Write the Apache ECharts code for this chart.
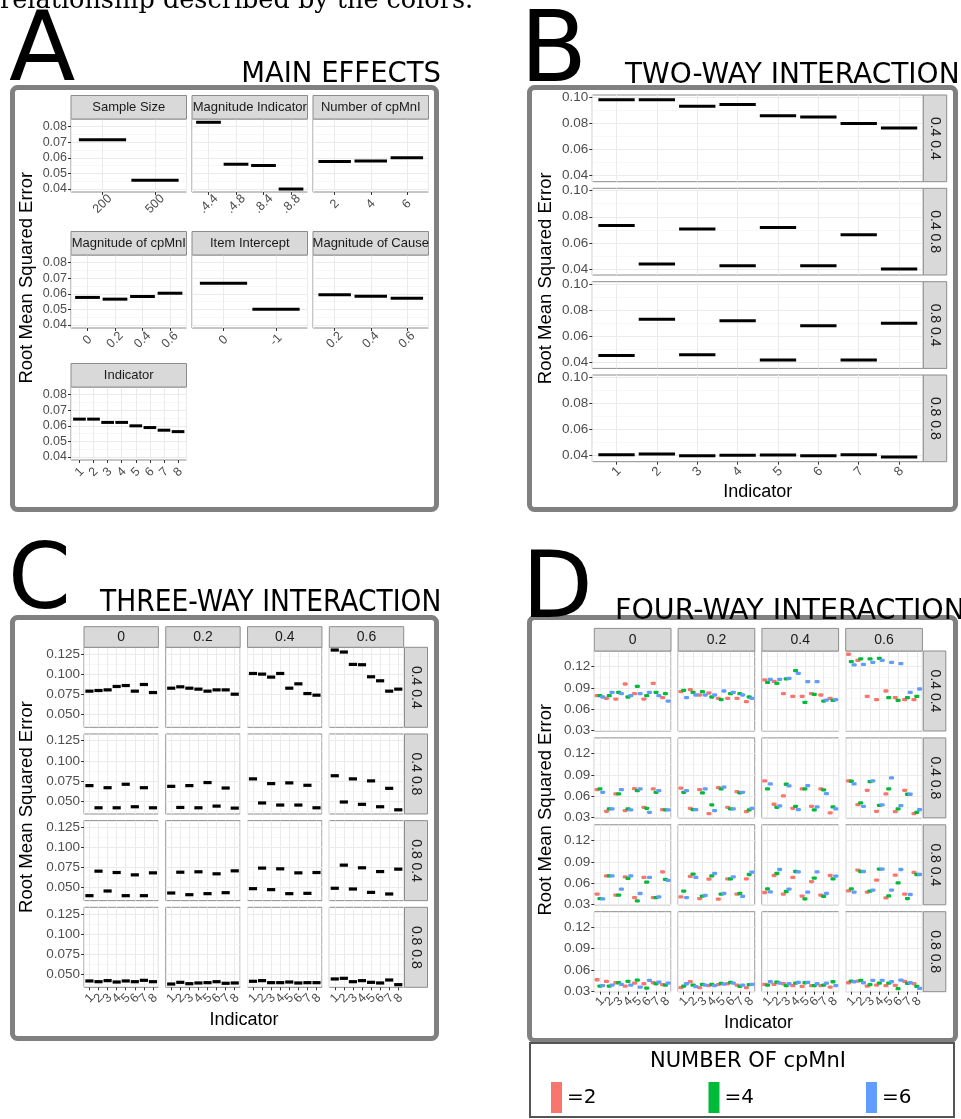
<!DOCTYPE html>
<html><head><meta charset="utf-8">
<script src="https://cdn.jsdelivr.net/npm/echarts@6/dist/echarts.min.js"></script>
<style>html,body{margin:0;padding:0;background:#fff}#c{width:961px;height:1119px}</style>
</head><body><div id="c"></div>
<script>
// ---------------- DATA ----------------
// Panel A : main effects
const aSampleSizeCats = ['200','500'];
const aSampleSize = [0.0716, 0.0457];
const aMagIndCats = ['.4.4','.4.8','.8.4','.8.8'];
const aMagInd = [0.0828, 0.0559, 0.0551, 0.0400];
const aNumCpCats = ['2','4','6'];
const aNumCp = [0.0576, 0.0580, 0.0600];
const aMagCpCats = ['0','0.2','0.4','0.6'];
const aMagCp = [0.0577, 0.0566, 0.0583, 0.0604];
const aInterceptCats = ['0','-1'];
const aIntercept = [0.0668, 0.0502];
const aMagCauseCats = ['0.2','0.4','0.6'];
const aMagCause = [0.0594, 0.0585, 0.0572];
const indicatorCats = ['1','2','3','4','5','6','7','8'];
const aIndicator = [0.0643, 0.0643, 0.0622, 0.0622, 0.0600, 0.0589, 0.0572, 0.0563];
const aYTicks = [0.04, 0.05, 0.06, 0.07, 0.08];
const aYMinor = [0.045, 0.055, 0.065, 0.075];

// Panel B : two-way interaction (rows = magnitude indicator combos)
const rowLabels = ['0.4 0.4', '0.4 0.8', '0.8 0.4', '0.8 0.8'];
const b_0404 = [0.0982, 0.0982, 0.0931, 0.0946, 0.0859, 0.0849, 0.0800, 0.0765];
const b_0408 = [0.0734, 0.0438, 0.0706, 0.0425, 0.0718, 0.0425, 0.0662, 0.0400];
const b_0804 = [0.0453, 0.0730, 0.0458, 0.0718, 0.0418, 0.0680, 0.0418, 0.0700];
const b_0808 = [0.0408, 0.0413, 0.0400, 0.0403, 0.0405, 0.0400, 0.0408, 0.0390];
const bYTicks = [0.04, 0.06, 0.08, 0.10];
const bYMinor = [0.05, 0.07, 0.09];

// Panel C : three-way interaction (columns = magnitude of cpMnI)
const colLabels = ['0', '0.2', '0.4', '0.6'];
const c_0404 = [
  [0.0788, 0.0796, 0.0804, 0.0846, 0.0858, 0.0788, 0.0871, 0.0771],
  [0.0825, 0.0842, 0.0825, 0.0813, 0.0788, 0.0804, 0.0804, 0.0750],
  [0.1008, 0.1000, 0.0963, 0.1008, 0.0825, 0.0879, 0.0758, 0.0738],
  [0.1300, 0.1275, 0.1121, 0.1117, 0.0967, 0.0917, 0.0788, 0.0813]
];
const c_0408 = [
  [0.0691, 0.0415, 0.0665, 0.0415, 0.0708, 0.0428, 0.0665, 0.0415],
  [0.0682, 0.0419, 0.0691, 0.0415, 0.0729, 0.0436, 0.0661, 0.0411],
  [0.0775, 0.0475, 0.0716, 0.0449, 0.0725, 0.0449, 0.0695, 0.0415],
  [0.0814, 0.0487, 0.0775, 0.0458, 0.0750, 0.0428, 0.0657, 0.0390]
];
const c_0804 = [
  [0.0400, 0.0705, 0.0458, 0.0688, 0.0400, 0.0659, 0.0400, 0.0684],
  [0.0433, 0.0692, 0.0412, 0.0697, 0.0425, 0.0672, 0.0437, 0.0709],
  [0.0487, 0.0743, 0.0475, 0.0734, 0.0425, 0.0684, 0.0429, 0.0688],
  [0.0492, 0.0780, 0.0483, 0.0747, 0.0441, 0.0700, 0.0421, 0.0730]
];
const c_0808 = [
  [0.0417, 0.0408, 0.0421, 0.0404, 0.0417, 0.0408, 0.0425, 0.0408],
  [0.0379, 0.0400, 0.0383, 0.0392, 0.0396, 0.0408, 0.0388, 0.0392],
  [0.0413, 0.0421, 0.0396, 0.0396, 0.0404, 0.0392, 0.0396, 0.0396],
  [0.0442, 0.0450, 0.0408, 0.0421, 0.0400, 0.0392, 0.0429, 0.0371]
];
const cYTicks = [0.05, 0.075, 0.10, 0.125];
const cYMinor = [0.0375, 0.0625, 0.0875, 0.1125];

// Panel D : four-way interaction (series = number of cpMnI)
const nLabels = ['=2', '=4', '=6'];
const d_0404_n2 = [
  [0.0792, 0.0755, 0.0745, 0.0956, 0.0820, 0.0745, 0.0966, 0.0764],
  [0.0849, 0.0877, 0.0802, 0.0830, 0.0755, 0.0755, 0.0755, 0.0708],
  [0.1013, 0.0994, 0.0820, 0.0783, 0.0783, 0.0820, 0.0802, 0.0755],
  [0.1374, 0.1289, 0.0783, 0.0736, 0.0858, 0.0764, 0.0736, 0.0736]
];
const d_0404_n4 = [
  [0.0792, 0.0792, 0.0839, 0.0774, 0.0923, 0.0792, 0.0839, 0.0820],
  [0.0867, 0.0839, 0.0849, 0.0774, 0.0736, 0.0820, 0.0820, 0.0774],
  [0.0980, 0.0966, 0.1027, 0.1144, 0.0698, 0.0811, 0.0717, 0.0727],
  [0.1270, 0.1308, 0.1308, 0.1317, 0.0764, 0.0727, 0.0764, 0.0783]
];
const d_0404_n6 = [
  [0.0774, 0.0839, 0.0820, 0.0792, 0.0820, 0.0839, 0.0792, 0.0717],
  [0.0764, 0.0802, 0.0802, 0.0802, 0.0858, 0.0839, 0.0802, 0.0755],
  [0.1022, 0.1022, 0.1036, 0.1106, 0.0989, 0.0989, 0.0731, 0.0736],
  [0.1224, 0.1233, 0.1261, 0.1289, 0.1261, 0.1242, 0.0839, 0.0886]
];
const d_0408_n2 = [
  [0.0694, 0.0389, 0.0633, 0.0398, 0.0708, 0.0445, 0.0703, 0.0413],
  [0.0713, 0.0431, 0.0694, 0.0356, 0.0722, 0.0445, 0.0666, 0.0384],
  [0.0816, 0.0488, 0.0605, 0.0431, 0.0703, 0.0459, 0.0703, 0.0366],
  [0.0816, 0.0483, 0.0684, 0.0389, 0.0633, 0.0384, 0.0684, 0.0356]
];
const d_0408_n4 = [
  [0.0703, 0.0422, 0.0633, 0.0422, 0.0680, 0.0431, 0.0656, 0.0408],
  [0.0656, 0.0413, 0.0647, 0.0478, 0.0703, 0.0422, 0.0647, 0.0408],
  [0.0703, 0.0445, 0.0769, 0.0459, 0.0703, 0.0408, 0.0689, 0.0450],
  [0.0811, 0.0506, 0.0806, 0.0473, 0.0703, 0.0422, 0.0628, 0.0375]
];
const d_0408_n6 = [
  [0.0656, 0.0422, 0.0694, 0.0408, 0.0703, 0.0375, 0.0680, 0.0408],
  [0.0680, 0.0413, 0.0703, 0.0398, 0.0727, 0.0422, 0.0656, 0.0431],
  [0.0774, 0.0464, 0.0745, 0.0413, 0.0750, 0.0450, 0.0638, 0.0422],
  [0.0774, 0.0459, 0.0816, 0.0478, 0.0858, 0.0469, 0.0628, 0.0413]
];
const d_0804_n2 = [
  [0.0445, 0.0703, 0.0431, 0.0689, 0.0398, 0.0680, 0.0398, 0.0759],
  [0.0408, 0.0694, 0.0384, 0.0656, 0.0375, 0.0661, 0.0445, 0.0661],
  [0.0469, 0.0708, 0.0445, 0.0680, 0.0417, 0.0623, 0.0431, 0.0708],
  [0.0492, 0.0783, 0.0473, 0.0642, 0.0394, 0.0713, 0.0445, 0.0750]
];
const d_0804_n4 = [
  [0.0384, 0.0703, 0.0431, 0.0666, 0.0352, 0.0614, 0.0398, 0.0652],
  [0.0488, 0.0727, 0.0417, 0.0703, 0.0445, 0.0661, 0.0455, 0.0722],
  [0.0520, 0.0736, 0.0483, 0.0764, 0.0380, 0.0670, 0.0413, 0.0661],
  [0.0520, 0.0764, 0.0488, 0.0797, 0.0422, 0.0605, 0.0384, 0.0722]
];
const d_0804_n6 = [
  [0.0380, 0.0703, 0.0516, 0.0703, 0.0455, 0.0680, 0.0408, 0.0638],
  [0.0398, 0.0680, 0.0427, 0.0736, 0.0455, 0.0689, 0.0413, 0.0755],
  [0.0478, 0.0792, 0.0516, 0.0759, 0.0473, 0.0759, 0.0455, 0.0698],
  [0.0473, 0.0764, 0.0502, 0.0797, 0.0502, 0.0792, 0.0441, 0.0722]
];
const d_0808_n2 = [
  [0.0464, 0.0441, 0.0422, 0.0375, 0.0417, 0.0408, 0.0422, 0.0394],
  [0.0352, 0.0436, 0.0352, 0.0380, 0.0394, 0.0408, 0.0389, 0.0352],
  [0.0398, 0.0398, 0.0408, 0.0380, 0.0370, 0.0380, 0.0380, 0.0361],
  [0.0422, 0.0445, 0.0375, 0.0389, 0.0380, 0.0384, 0.0441, 0.0408]
];
const d_0808_n4 = [
  [0.0375, 0.0375, 0.0422, 0.0441, 0.0459, 0.0347, 0.0408, 0.0389],
  [0.0375, 0.0389, 0.0398, 0.0398, 0.0413, 0.0427, 0.0370, 0.0394],
  [0.0389, 0.0431, 0.0380, 0.0417, 0.0422, 0.0380, 0.0389, 0.0436],
  [0.0445, 0.0455, 0.0394, 0.0417, 0.0417, 0.0338, 0.0413, 0.0370]
];
const d_0808_n6 = [
  [0.0380, 0.0389, 0.0398, 0.0389, 0.0361, 0.0455, 0.0431, 0.0417],
  [0.0408, 0.0366, 0.0389, 0.0380, 0.0403, 0.0417, 0.0389, 0.0398],
  [0.0436, 0.0417, 0.0408, 0.0427, 0.0427, 0.0408, 0.0417, 0.0380],
  [0.0436, 0.0422, 0.0455, 0.0455, 0.0436, 0.0459, 0.0422, 0.0342]
];
const dYTicks = [0.03, 0.06, 0.09, 0.12];
const dYMinor = [0.045, 0.075, 0.105, 0.135];

// ---------------- STYLE ----------------
const SANS = 'Liberation Sans';
const DJV = 'DejaVu Sans';
const palette = ['#F8766D', '#00BA38', '#619CFF'];
const dodge = [-0.3, 0, 0.3];

const grids = [], xAxes = [], yAxes = [], series = [], graphics = [];

function gText(x, y, text, size, family, o) {
  o = o || {};
  graphics.push({type: 'text', x: x, y: y, rotation: o.rot || 0, scaleX: o.sx || 1, z: 100, silent: true,
    style: {text: text, fontSize: size, fontFamily: family, fill: o.color || '#000',
      align: o.align || 'center', verticalAlign: o.va || 'middle'}});
}
function gRect(x, y, w, h, fill, stroke, lw, r) {
  graphics.push({type: 'rect', z: 50, silent: true, shape: {x: x, y: y, width: w, height: h, r: r || 0},
    style: {fill: fill, stroke: stroke, lineWidth: lw}});
}
function stripTop(x, y, w, h, label, size) {
  gRect(x, y, w, h, '#d9d9d9', '#8c8c8c', 1);
  gText(x + w / 2, y + h / 2, label, size, SANS, {color: '#1a1a1a'});
}
function stripRight(x, y, w, h, label, size) {
  gRect(x, y, w, h, '#d9d9d9', '#8c8c8c', 1);
  gText(x + w / 2, y + h / 2, label, size, SANS, {color: '#1a1a1a', rot: -Math.PI / 2});
}

function facet(c) {
  const gi = grids.length;
  grids.push({left: c.x, top: c.y, width: c.w, height: c.h, show: true, backgroundColor: '#fff',
    borderColor: '#8c8c8c', borderWidth: 1, outerBoundsMode: 'none'});
  const n = c.cats.length;
  const lo = 0.4, hi = n + 0.6;
  // category positions, padded with the two axis ends (their labels are blank and suppressed)
  const pos = [lo].concat(c.cats.map((_, i) => i + 1), [hi]);
  xAxes.push({gridIndex: gi, type: 'value', min: lo, max: hi,
    axisLine: {show: false, onZero: false},
    axisTick: {show: c.showX, customValues: pos, length: 3, lineStyle: {color: '#333', width: 1}},
    axisLabel: {show: c.showX, customValues: pos,
      formatter: v => (Math.abs(v - Math.round(v)) < 1e-6 ? c.cats[Math.round(v) - 1] : ''),
      showMinLabel: false, showMaxLabel: false, hideOverlap: false,
      rotate: 45, align: 'center', verticalAlign: 'middle', margin: c.xMargin,
      color: '#4d4d4d', fontSize: c.xFont, fontFamily: SANS},
    splitLine: {show: true, lineStyle: {color: '#ebebeb', width: 1}}});
  const yi = yAxes.length;
  yAxes.push({gridIndex: gi, type: 'value', min: c.ymin, max: c.ymax, position: 'right',
    axisLine: {show: false}, axisTick: {show: false, customValues: c.yMinor},
    axisLabel: {show: false, customValues: c.yMinor},
    splitLine: {show: true, lineStyle: {color: '#f3f3f3', width: 0.7}}});
  yAxes.push({gridIndex: gi, type: 'value', min: c.ymin, max: c.ymax, position: 'left',
    axisLine: {show: false},
    axisTick: {show: c.showY, customValues: c.yTicks, length: 3, lineStyle: {color: '#333', width: 1}},
    axisLabel: {show: c.showY, customValues: c.yTicks, formatter: c.fmt, margin: 4,
      showMinLabel: true, showMaxLabel: true,
      color: '#4d4d4d', fontSize: c.yFont, fontFamily: SANS},
    splitLine: {show: true, lineStyle: {color: '#ebebeb', width: 1}}});
  return {gi: gi, yi: yi + 1};
}

function segs(ax, vals, lw) {
  series.push({type: 'custom', xAxisIndex: ax.gi, yAxisIndex: ax.yi, silent: true,
    data: vals.map((v, i) => [i + 1, v]),
    renderItem: function (p, api) {
      const x = api.value(0), y = api.value(1);
      const a = api.coord([x - 0.45, y]), b = api.coord([x + 0.45, y]);
      return {type: 'line', shape: {x1: a[0], y1: a[1], x2: b[0], y2: b[1]},
        style: {stroke: '#000', lineWidth: lw}};
    }});
}
function dots(ax, groups) {
  groups.forEach((vals, k) => {
    series.push({type: 'scatter', name: nLabels[k], xAxisIndex: ax.gi, yAxisIndex: ax.yi, silent: true,
      symbol: 'roundRect', symbolSize: [5, 3.3], itemStyle: {color: palette[k], opacity: 1},
      data: vals.map((v, i) => [i + 1 + dodge[k], v])});
  });
}

// ---------------- PANEL A ----------------
const A = {cols: [71, 192, 313], w: 115.5, rows: [119, 255, 387], h: 73, strip: 23.5};
const aFacets = [
  {t: 'Sample Size', cats: aSampleSizeCats, vals: aSampleSize, r: 0, c: 0},
  {t: 'Magnitude Indicator', cats: aMagIndCats, vals: aMagInd, r: 0, c: 1},
  {t: 'Number of cpMnI', cats: aNumCpCats, vals: aNumCp, r: 0, c: 2},
  {t: 'Magnitude of cpMnI', cats: aMagCpCats, vals: aMagCp, r: 1, c: 0},
  {t: 'Item Intercept', cats: aInterceptCats, vals: aIntercept, r: 1, c: 1},
  {t: 'Magnitude of Cause', cats: aMagCauseCats, vals: aMagCause, r: 1, c: 2},
  {t: 'Indicator', cats: indicatorCats, vals: aIndicator, r: 2, c: 0}
];
aFacets.forEach(f => {
  const x = A.cols[f.c], y = A.rows[f.r];
  const ax = facet({x: x, y: y, w: A.w, h: A.h, cats: f.cats, ymin: 0.0381, ymax: 0.0849,
    yTicks: aYTicks, yMinor: aYMinor, fmt: v => v.toFixed(2), showY: f.c === 0, showX: true,
    xMargin: 12, xFont: 12.5, yFont: 12.5});
  segs(ax, f.vals, 3);
  stripTop(x, y - A.strip, A.w, A.strip, f.t, 13);
});

// ---------------- PANEL B ----------------
const B = {x: 592.3, w: 331, rows: [95, 188.3, 281.7, 375], h: 86.7, sx: 923.3, sw: 23.4};
const bData = [b_0404, b_0408, b_0804, b_0808];
bData.forEach((vals, r) => {
  const ax = facet({x: B.x, y: B.rows[r], w: B.w, h: B.h, cats: indicatorCats, ymin: 0.0354, ymax: 0.1018,
    yTicks: bYTicks, yMinor: bYMinor, fmt: v => v.toFixed(2), showY: true, showX: r === 3,
    xMargin: 10, xFont: 13, yFont: 13.5});
  segs(ax, vals, 3);
  stripRight(B.sx, B.rows[r], B.sw, B.h, rowLabels[r], 14);
});

// ---------------- PANEL C ----------------
const C = {x0: 84, step: 81.77, w: 74.4, y0: 647.3, ystep: 86.67, h: 80, stripH: 20.6, sx: 404.5, sw: 23};
const cData = [c_0404, c_0408, c_0804, c_0808];
cData.forEach((rowVals, r) => {
  rowVals.forEach((vals, c) => {
    const x = C.x0 + c * C.step, y = C.y0 + r * C.ystep;
    const ax = facet({x: x, y: y, w: C.w, h: C.h, cats: indicatorCats, ymin: 0.0338, ymax: 0.1334,
      yTicks: cYTicks, yMinor: cYMinor, fmt: v => v.toFixed(3), showY: c === 0, showX: r === 3,
      xMargin: 11, xFont: 12.5, yFont: 13.5});
    segs(ax, vals, 3.2);
    if (r === 0) stripTop(x, y - C.stripH, C.w, C.stripH, colLabels[c], 14);
  });
  stripRight(C.sx, C.y0 + r * C.ystep, C.sw, C.h, rowLabels[r], 14);
});

// ---------------- PANEL D ----------------
const D = {x0: 594.3, step: 83.8, w: 76.7, y0: 651, ystep: 86.9, h: 80, stripH: 22.6, sx: 923.3, sw: 22.5};
const dData = [
  [d_0404_n2, d_0404_n4, d_0404_n6],
  [d_0408_n2, d_0408_n4, d_0408_n6],
  [d_0804_n2, d_0804_n4, d_0804_n6],
  [d_0808_n2, d_0808_n4, d_0808_n6]
];
dData.forEach((groups, r) => {
  for (let c = 0; c < 4; c++) {
    const x = D.x0 + c * D.step, y = D.y0 + r * D.ystep;
    const ax = facet({x: x, y: y, w: D.w, h: D.h, cats: indicatorCats, ymin: 0.0296, ymax: 0.142,
      yTicks: dYTicks, yMinor: dYMinor, fmt: v => v.toFixed(2), showY: c === 0, showX: r === 3,
      xMargin: 10, xFont: 12.5, yFont: 13.5});
    dots(ax, groups.map(g => g[c]));
    if (r === 0) stripTop(x, y - D.stripH, D.w, D.stripH, colLabels[c], 14);
  }
  stripRight(D.sx, D.y0 + r * D.ystep, D.sw, D.h, rowLabels[r], 14);
});

// ---------------- FRAMES, TITLES ----------------
const frameCol = '#808080';
gRect(12.5, 87.5, 424, 422, 'rgba(0,0,0,0)', frameCol, 5, 5);
gRect(529.5, 87.5, 426, 422, 'rgba(0,0,0,0)', frameCol, 5, 5);
gRect(12.5, 617.5, 424, 421, 'rgba(0,0,0,0)', frameCol, 5, 5);
gRect(529.5, 617.5, 426, 423, 'rgba(0,0,0,0)', frameCol, 5, 5);
gRect(530, 1043, 424, 74, 'rgba(0,0,0,0)', '#555', 2, 0);

gText(0, 1.5, 'relationship described by the colors.', 25.5, 'DejaVu Serif', {align: 'left'});
gText(9, 55, 'A', 97, DJV, {align: 'left'});
gText(441, 75, 'MAIN EFFECTS', 27.5, DJV, {align: 'right'});
gText(520, 56, 'B', 98, DJV, {align: 'left'});
gText(625, 75.7, 'TWO-WAY INTERACTION', 28, DJV, {align: 'left'});
gText(8, 585, 'C', 90, DJV, {align: 'left'});
gText(100, 603, 'THREE-WAY INTERACTION', 30, DJV, {align: 'left', sx: 0.885});
gText(522, 593, 'D', 92, DJV, {align: 'left'});
gText(615, 612, 'FOUR-WAY INTERACTION', 28.5, DJV, {align: 'left'});

// axis titles
const RMSE = 'Root Mean Squared Error';
gText(27, 277.7, RMSE, 18.5, SANS, {rot: Math.PI / 2});
gText(546, 278.3, RMSE, 18.5, SANS, {rot: Math.PI / 2});
gText(27, 807, RMSE, 18.5, SANS, {rot: Math.PI / 2});
gText(546, 809.7, RMSE, 18.5, SANS, {rot: Math.PI / 2});
gText(757.8, 491.7, 'Indicator', 18, SANS);
gText(244, 1020, 'Indicator', 18, SANS);
gText(758.5, 1023, 'Indicator', 18, SANS);

// legend title
gText(748, 1062, 'NUMBER OF cpMnI', 21, DJV);

const chart = echarts.init(document.getElementById('c'), null, {renderer: 'canvas'});
chart.setOption({
  animation: false,
  backgroundColor: '#fff',
  textStyle: {fontFamily: SANS},
  grid: grids, xAxis: xAxes, yAxis: yAxes, series: series,
  legend: {data: nLabels, left: 551, top: 1082, padding: 0, itemWidth: 11, itemHeight: 31, itemGap: 112,
    icon: 'rect', selectedMode: false, itemStyle: {opacity: 1},
    textStyle: {fontSize: 20, fontFamily: DJV, color: '#000'}},
  graphic: {elements: graphics}
});
</script></body></html>
